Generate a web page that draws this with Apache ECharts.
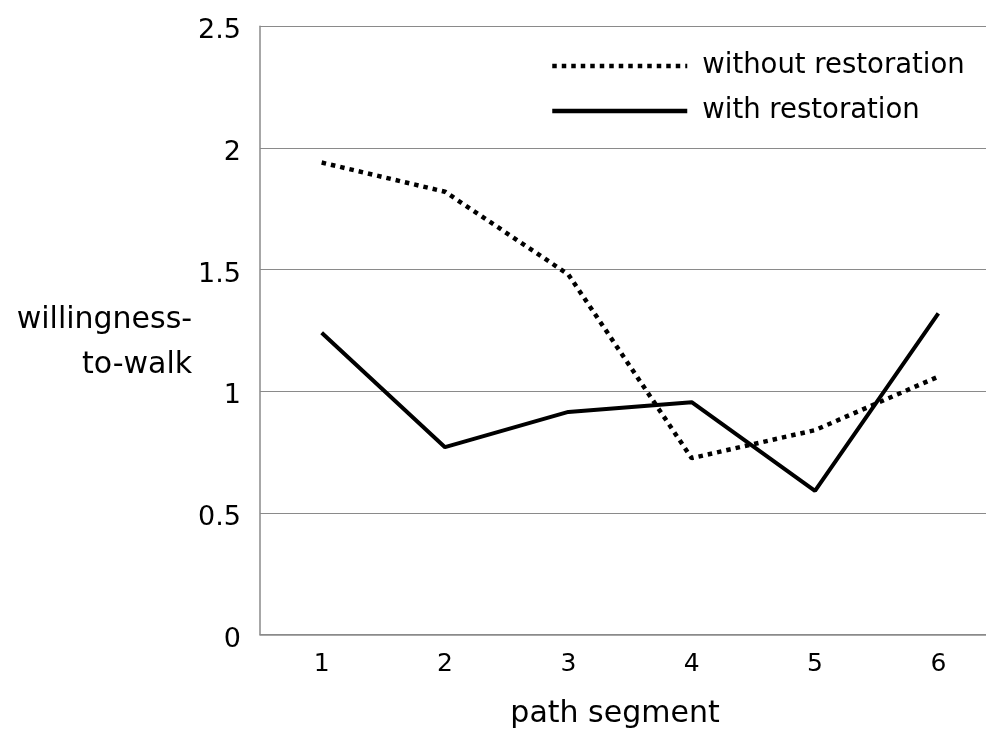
<!DOCTYPE html>
<html>
<head>
<meta charset="utf-8">
<script src="https://cdn.jsdelivr.net/npm/echarts@6/dist/echarts.min.js"></script>
<style>
html,body{margin:0;padding:0;background:#fff;}
#c{width:986px;height:729px;}
</style>
</head>
<body>
<div id="c"></div>
<script>
const categories = ['1', '2', '3', '4', '5', '6'];
const withoutRestoration = [1.94, 1.82, 1.48, 0.725, 0.84, 1.06];
const withRestoration = [1.24, 0.77, 0.915, 0.955, 0.59, 1.32];
const seriesNames = ['without restoration', 'with restoration'];
const yTitleLines = ['willingness-', 'to-walk'];
const xTitle = 'path segment';

const FONT = '"DejaVu Sans", Verdana, sans-serif';
const chart = echarts.init(document.getElementById('c'), null, {renderer: 'canvas'});
chart.setOption({
  backgroundColor: '#ffffff',
  animation: false,
  textStyle: {fontFamily: FONT, color: '#000'},
  grid: {left: 260, top: 26.3, width: 740, height: 608.2, containLabel: false, outerBoundsMode: 'none'},
  legend: {
    orient: 'vertical',
    left: 550,
    top: 51,
    padding: 0,
    itemWidth: 135,
    itemHeight: 30,
    itemGap: 15,
    itemStyle: {color: 'rgba(0,0,0,0)', borderWidth: 0, opacity: 0},
    lineStyle: {width: 4.5},
    textStyle: {fontFamily: FONT, fontSize: 27.5, color: '#000', padding: [0, 0, 0, 10], lineHeight: 30},
    data: seriesNames
  },
  xAxis: {
    type: 'category',
    data: categories,
    boundaryGap: true,
    name: xTitle,
    nameLocation: 'middle',
    nameGap: 80,
    nameTextStyle: {fontFamily: FONT, fontSize: 30, color: '#000', verticalAlign: 'middle', padding: [0, 30, 0, 0]},
    axisLine: {show: true, lineStyle: {color: '#8a8a8a', width: 1.5}},
    axisTick: {show: false},
    axisLabel: {fontFamily: FONT, fontSize: 25, color: '#000', margin: 17},
    splitLine: {show: false}
  },
  yAxis: {
    type: 'value',
    min: 0,
    max: 2.5,
    interval: 0.5,
    name: '{sp| }\n{t|' + yTitleLines[0] + '}\n{t|' + yTitleLines[1] + '}',
    nameLocation: 'middle',
    nameRotate: 0,
    nameGap: 67,
    nameTextStyle: {
      fontFamily: FONT, fontSize: 30, color: '#000', align: 'right', verticalAlign: 'middle',
      rich: {
        sp: {fontSize: 10, lineHeight: 25, align: 'right'},
        t: {fontFamily: FONT, fontSize: 30, lineHeight: 45, color: '#000', align: 'right'}
      }
    },
    axisLine: {show: true, lineStyle: {color: '#8a8a8a', width: 1.5}},
    axisTick: {show: false},
    axisLabel: {
      fontFamily: FONT, fontSize: 27, color: '#000', margin: 19,
      formatter: function (v) { return '{n|' + v + '}'; },
      rich: {n: {fontFamily: FONT, fontSize: 27, color: '#000', padding: [10, 0, 0, 0]}}
    },
    splitLine: {show: true, lineStyle: {color: '#8a8a8a', width: 1.2}}
  },
  series: [
    {
      name: seriesNames[0],
      type: 'line',
      data: withoutRestoration,
      symbol: 'none',
      lineStyle: {color: '#000', width: 4.5, type: [4.5, 5], cap: 'butt'},
      itemStyle: {color: '#000'}
    },
    {
      name: seriesNames[1],
      type: 'line',
      data: withRestoration,
      symbol: 'none',
      lineStyle: {color: '#000', width: 4, type: 'solid'},
      itemStyle: {color: '#000'}
    }
  ]
});
</script>
</body>
</html>
